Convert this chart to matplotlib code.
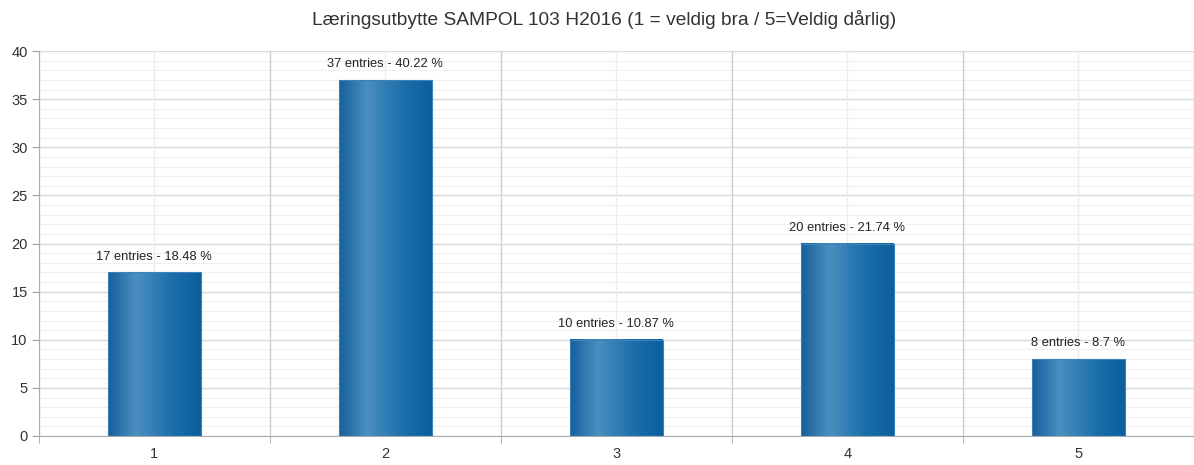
import numpy as np
import matplotlib
matplotlib.use("Agg")
import matplotlib.pyplot as plt
from matplotlib.colors import LinearSegmentedColormap

categories = ["1", "2", "3", "4", "5"]
counts = [17, 37, 10, 20, 8]
percents = [18.48, 40.22, 10.87, 21.74, 8.7]
title = "Læringsutbytte SAMPOL 103 H2016 (1 = veldig bra / 5=Veldig dårlig)"

plt.rcParams['font.family'] = ['Liberation Sans', 'DejaVu Sans']

fig = plt.figure(figsize=(11.94, 4.65), dpi=100)
ax = fig.add_axes([0.0325, 0.0624, 0.9675, 0.8276])

x = np.arange(len(categories)) + 1
ax.set_xlim(0.5, len(categories) + 0.5)
ax.set_ylim(0, 40)

# grid
for v in range(0, 41):
    if v % 5 == 0:
        ax.axhline(v, color='#d5dade', lw=1.0, zorder=0)
    else:
        ax.axhline(v, color='#eef0f2', lw=0.8, zorder=0)
for b in np.arange(0.5, len(categories) + 1, 1.0):
    ax.axvline(b, color='#c9d0d6', lw=1.0, zorder=0)
for c in x:
    ax.axvline(c, color='#e9edf0', lw=1.0, zorder=0)

cmap = LinearSegmentedColormap.from_list('bar', [
    (0.0, '#155f9c'), (0.3, '#4b8fbf'), (0.7, '#1a6eaa'), (1.0, '#0a5f9c')])
grad = np.linspace(0, 1, 256).reshape(1, -1)
w = 0.4
for xi, cnt, pct in zip(x, counts, percents):
    ax.bar(xi, cnt, width=w, color='none', edgecolor='#3b82b8', lw=0.8, zorder=3)
    ax.imshow(grad, cmap=cmap, aspect='auto', extent=(xi - w / 2, xi + w / 2, 0, cnt),
              zorder=2, interpolation='bicubic')
    ax.text(xi, cnt + 1.0, f"{cnt} entries - {pct:g} %", ha='center', va='bottom',
            fontsize=9.3, color='#222222', zorder=4)

ax.set_xlim(0.5, len(categories) + 0.5)
ax.set_ylim(0, 40)

ax.set_yticks(range(0, 41, 5))
ax.set_xticks(x)
ax.set_xticklabels(categories)
ax.set_xticks(np.arange(0.5, len(categories) + 1, 1.0), minor=True)
ax.tick_params(axis='y', length=5, color='#9aa4ac', labelsize=10.5, labelcolor='#333333', pad=3)
ax.tick_params(axis='x', which='major', length=0, labelsize=10.5, labelcolor='#333333', pad=8)
ax.tick_params(axis='x', which='minor', length=5, color='#9aa4ac')

for s in ['top', 'right']:
    ax.spines[s].set_visible(False)
ax.spines['left'].set_color('#a5aeb5')
ax.spines['bottom'].set_color('#a5aeb5')

fig.text(0.506, 0.957, title, ha='center', va='center', fontsize=13.8, color='#333333')

fig.savefig('out.png', dpi=100)
